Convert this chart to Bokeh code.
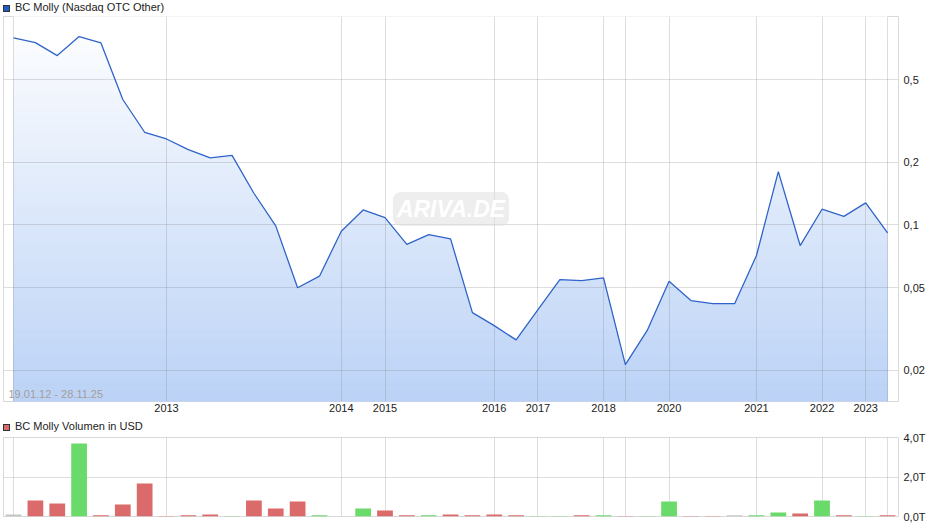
import math
import numpy as np
from bokeh.plotting import figure
from bokeh.models import Range1d, FixedTicker, Label, Div
from bokeh.layouts import column
from bokeh.embed import file_html
from bokeh.resources import INLINE

# ---------------- data ----------------
price = [0.793, 0.753, 0.652, 0.805, 0.750, 0.401, 0.279, 0.259, 0.230, 0.210,
         0.216, 0.142, 0.099, 0.0499, 0.0567, 0.0932, 0.118, 0.1085, 0.0807, 0.0899,
         0.0857, 0.0379, 0.0328, 0.0280, 0.0392, 0.0546, 0.0540, 0.0557, 0.0213, 0.0311,
         0.0536, 0.0433, 0.0418, 0.0418, 0.0713, 0.1805, 0.0796, 0.119, 0.110, 0.1277,
         0.0916]
volume_k = [0.10, 0.81, 0.66, 3.70, 0.06, 0.61, 1.67, 0.03, 0.06, 0.10,
            0.03, 0.81, 0.41, 0.76, 0.06, 0.0, 0.41, 0.30, 0.06, 0.06,
            0.10, 0.06, 0.10, 0.06, 0.03, 0.03, 0.06, 0.06, 0.03, 0.03,
            0.76, 0.03, 0.03, 0.06, 0.06, 0.20, 0.15, 0.81, 0.06, 0.03,
            0.06]
year_labels = ["2013", "2014", "2015", "2016", "2017", "2018", "2020", "2021", "2022", "2023"]
year_pos = [7, 15, 17, 22, 24, 27, 30, 34, 37, 39]
grid_pos = [0, 7, 15, 17, 22, 24, 27, 28, 30, 34, 37, 39, 40]
price_ticks = [0.02, 0.05, 0.1, 0.2, 0.5]
price_tick_labels = ["0,02", "0,05", "0,1", "0,2", "0,5"]
vol_ticks = [0, 2, 4]
vol_tick_labels = ["0,0T", "2,0T", "4,0T"]
title_price = "BC Molly (Nasdaq OTC Other)"
title_volume = "BC Molly Volumen in USD"
date_span = "19.01.12 - 28.11.25"

# ---------------- style ----------------
FONT = "Liberation Sans"
W = 940
GRID_COLOR = "#808080"
GRID_ALPHA = 0.26
LINE_COLOR = "#2F64C8"
UP, DOWN, FLAT = "#6ADA6A", "#DB6A6A", "#C4C4C4"

idx = list(range(len(price)))
x_range = Range1d(-0.46, 40.5)
y_lo, y_hi = 0.01416, 1.005


def style_common(fig):
    fig.outline_line_color = "#D9D9D9"
    fig.background_fill_color = "white"
    fig.border_fill_color = "white"
    for ax in fig.yaxis:
        ax.axis_line_color = None
        ax.major_tick_line_color = None
        ax.minor_tick_line_color = None
        ax.major_tick_out = 0
        ax.major_tick_in = 0
        ax.minor_tick_out = 0
        ax.minor_tick_in = 0
        ax.major_label_text_font = FONT
        ax.major_label_text_font_size = "11px"
        ax.major_label_text_color = "#222222"
        ax.major_label_standoff = 5
    for g in fig.grid:
        g.grid_line_color = GRID_COLOR
        g.grid_line_alpha = GRID_ALPHA


def header(label, fill, height, pad_top):
    html = ('<span style="display:inline-block;width:7px;height:7px;'
            'background:%s;border:1px solid #333;margin-right:5px;'
            'vertical-align:-1px"></span>%s' % (fill, label))
    return Div(text=html, width=W, height=height, margin=(0, 0, 0, 0),
               styles={"font-family": FONT, "font-size": "11px", "color": "#222222",
                       "padding-left": "3px", "padding-top": "%dpx" % pad_top,
                       "line-height": "12px", "white-space": "nowrap"})


# ---------------- price chart ----------------
p = figure(width=W, height=403, x_range=x_range, y_range=Range1d(y_lo, y_hi),
           y_axis_type="log", y_axis_location="right",
           output_backend="svg", toolbar_location=None,
           min_border_left=3, min_border_right=42, min_border_top=2, min_border_bottom=16)

# gradient fill under the line: horizontal strips + white mask above the line
n = 96
edges = np.logspace(math.log10(y_lo), math.log10(y_hi), n + 1)
t = (np.arange(n) + 0.5) / n
top_rgb = (255, 255, 255)
bot_rgb = (187, 210, 246)
cols = ["#%02x%02x%02x" % tuple(int(round(b + (tp - b) * ti)) for b, tp in zip(bot_rgb, top_rgb)) for ti in t]
p.quad(left=idx[0], right=idx[-1], bottom=edges[:-1], top=edges[1:],
       fill_color=cols, line_color=cols, line_width=1, level="image")
p.varea(x=idx, y1=price, y2=y_hi, fill_color="white", level="image")

p.line(idx, price, line_color=LINE_COLOR, line_width=1.3)

p.xaxis.ticker = FixedTicker(ticks=year_pos)
p.xaxis.major_label_overrides = dict(zip(year_pos, year_labels))
p.xaxis.axis_line_color = None
p.xaxis.major_tick_line_color = None
p.xaxis.minor_tick_line_color = None
p.xaxis.major_tick_out = 0
p.xaxis.major_tick_in = 0
p.xaxis.minor_tick_out = 0
p.xaxis.major_label_text_font = FONT
p.xaxis.major_label_text_font_size = "11px"
p.xaxis.major_label_text_color = "#222222"
p.xaxis.major_label_standoff = 2
p.xgrid.ticker = FixedTicker(ticks=grid_pos)

p.yaxis.ticker = FixedTicker(ticks=price_ticks)
p.yaxis.major_label_overrides = dict(zip(price_ticks, price_tick_labels))
p.ygrid.ticker = FixedTicker(ticks=price_ticks)
style_common(p)

wm = Label(x=(x_range.start + x_range.end) / 2, y=math.sqrt(y_lo * y_hi),
           text="ARIVA.DE", text_align="center", text_baseline="middle",
           text_font=FONT, text_font_size="23px", text_font_style="bold italic",
           text_color="white", background_fill_color="#E0E0E0",
           background_fill_alpha=0.55, border_radius=8, padding=4, level="underlay")
p.add_layout(wm)

dl = Label(x=x_range.start, y=y_lo, x_offset=5, y_offset=2, text=date_span,
           text_align="left", text_baseline="bottom", text_font=FONT,
           text_font_size="11px", text_color="#A39E98")
p.add_layout(dl)

# ---------------- volume chart ----------------
bar_colors = [FLAT] + [UP if b > a else (DOWN if b < a else FLAT) for a, b in zip(price[:-1], price[1:])]

p2 = figure(width=W, height=93, x_range=x_range, y_range=Range1d(0, 4),
            y_axis_location="right", x_axis_location=None,
            output_backend="svg", toolbar_location=None,
            min_border_left=3, min_border_right=42, min_border_top=6, min_border_bottom=8)
p2.vbar(x=idx, top=volume_k, width=0.72, fill_color=bar_colors, line_color=None)
p2.xgrid.ticker = FixedTicker(ticks=grid_pos)
p2.yaxis.ticker = FixedTicker(ticks=vol_ticks)
p2.yaxis.major_label_overrides = dict(zip(vol_ticks, vol_tick_labels))
p2.ygrid.ticker = FixedTicker(ticks=vol_ticks)
style_common(p2)

layout = column(header(title_price, "#1F5CC6", 14, 1), p,
                header(title_volume, DOWN, 14, 3), p2, spacing=0)
open("out.html", "w").write(file_html(layout, INLINE))
